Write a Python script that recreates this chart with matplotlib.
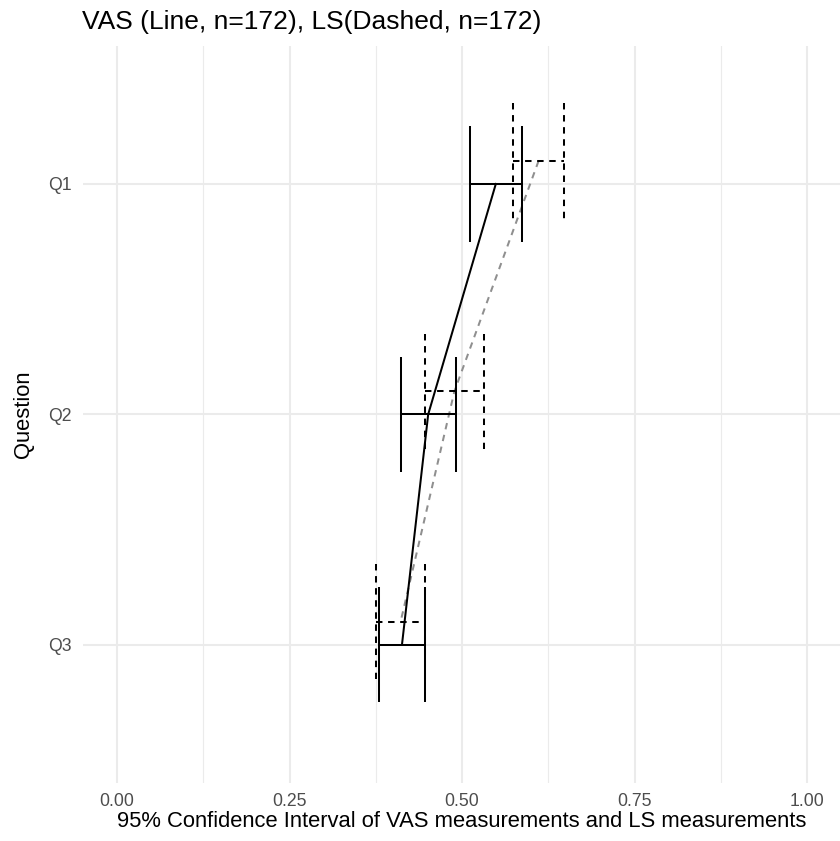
import matplotlib
matplotlib.use("Agg")
import matplotlib.pyplot as plt
import numpy as np

plt.rcParams['font.family'] = ['Liberation Sans', 'DejaVu Sans']

# data
questions = ['Q1', 'Q2', 'Q3']
vas_mean = [0.549, 0.451, 0.413]
vas_low = [0.512, 0.411, 0.380]
vas_high = [0.587, 0.491, 0.447]
ls_mean = [0.611, 0.489, 0.411]
ls_low = [0.574, 0.446, 0.375]
ls_high = [0.648, 0.532, 0.447]

ypos = np.arange(1, len(questions) + 1)
ls_shift = -0.1   # LS bars sit a little above the VAS bars
cap = 0.25
lw = 1.45

fig = plt.figure(figsize=(8.4, 8.41), dpi=100)
ax = fig.add_axes([82.5 / 840, 58 / 841, 759 / 840, 737.3 / 841])

grid_col = '#ebebeb'
for x in [0, 0.25, 0.5, 0.75, 1.0]:
    ax.axvline(x, color=grid_col, lw=1.5, zorder=0)
for x in [0.125, 0.375, 0.625, 0.875]:
    ax.axvline(x, color=grid_col, lw=0.8, zorder=0)
for y in ypos:
    ax.axhline(y, color=grid_col, lw=1.5, zorder=0)

dash = (0, (3.2, 2.8))

# mean lines
ax.plot(ls_mean, ypos + ls_shift, color='#8f8f8f', lw=lw, ls=dash, zorder=2)
ax.plot(vas_mean, ypos, color='black', lw=lw, zorder=3)

# VAS error bars (solid)
ax.hlines(ypos, vas_low, vas_high, color='black', lw=lw, zorder=3)
ax.vlines(vas_low, ypos - cap, ypos + cap, color='black', lw=lw, zorder=3)
ax.vlines(vas_high, ypos - cap, ypos + cap, color='black', lw=lw, zorder=3)

# LS error bars (dashed)
ly = ypos + ls_shift
ax.hlines(ly, ls_low, ls_high, color='black', lw=lw, linestyles=[dash], zorder=3)
ax.vlines(ls_low, ly - cap, ly + cap, color='black', lw=lw, linestyles=[dash], zorder=3)
ax.vlines(ls_high, ly - cap, ly + cap, color='black', lw=lw, linestyles=[dash], zorder=3)

ax.set_xlim(-0.05, 1.05)
ax.set_ylim(3.6, 0.4)
ax.set_xticks([0, 0.25, 0.5, 0.75, 1.0])
ax.set_xticklabels(['0.00', '0.25', '0.50', '0.75', '1.00'])
ax.set_yticks(ypos)
ax.set_yticklabels(questions)
ax.tick_params(length=0, labelsize=12.7, colors='#4d4d4d')
ax.tick_params(axis='x', pad=7)
ax.tick_params(axis='y', pad=7.5)
for s in ax.spines.values():
    s.set_visible(False)

ax.set_xlabel('95% Confidence Interval of VAS measurements and LS measurements',
              fontsize=15.8, color='black')
ax.xaxis.set_label_coords(0.5, -0.038)
ax.set_ylabel('Question', fontsize=15.8, color='black')
ax.yaxis.set_label_coords(-0.064, 0.5)
fig.text(82.5 / 840, 1 - 29 / 841, 'VAS (Line, n=172), LS(Dashed, n=172)',
         fontsize=19, ha='left', va='baseline')

fig.savefig('out.png', dpi=100)
